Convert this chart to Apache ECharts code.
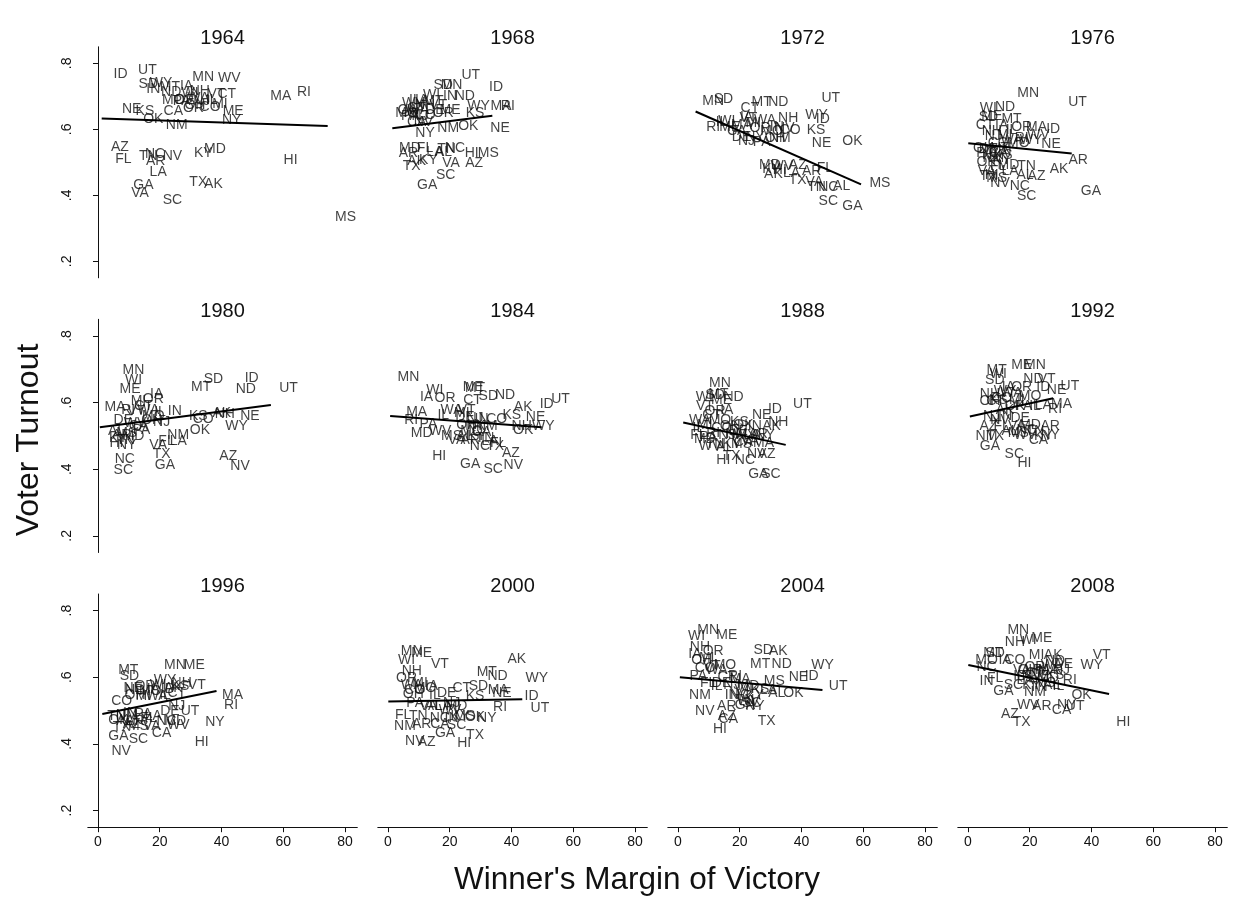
<!DOCTYPE html>
<html>
<head>
<meta charset="utf-8">
<script src="https://cdn.jsdelivr.net/npm/echarts@6/dist/echarts.min.js"></script>
<style>
  html, body { margin: 0; padding: 0; background: #fff; }
  #main { width: 1239px; height: 900px; }
</style>
</head>
<body>
<div id="main"></div>
<script>
// turnout vs. winner's margin, one panel per election year
const years = ['1964', '1968', '1972', '1976', '1980', '1984', '1988', '1992', '1996', '2000', '2004', '2008'];
const xTicks = [0, 20, 40, 60, 80];
const yTicks = [0.2, 0.4, 0.6, 0.8];

// [margin, turnout, state]
const d1964 = [[7.3,.768,'ID'],[16.0,.780,'UT'],[16.3,.737,'SD'],[20.4,.739,'WY'],[17.9,.721,'IN'],[23.7,.714,'ND'],[28.7,.731,'IA'],[33.0,.717,'NH'],[34.1,.757,'MN'],[42.5,.755,'WV'],[41.7,.707,'CT'],[38.4,.707,'VT'],[59.2,.699,'MA'],[66.7,.714,'RI'],[24.4,.689,'MO'],[28.2,.687,'DE'],[32.5,.694,'WA'],[36.8,.689,'IL'],[39.5,.677,'MI'],[30.9,.664,'OR'],[36.3,.667,'CO'],[43.8,.654,'ME'],[43.3,.628,'NY'],[10.9,.662,'NE'],[15.2,.654,'KS'],[17.9,.630,'OK'],[24.4,.654,'CA'],[25.5,.613,'NM'],[27.1,.684,'PA'],[33.6,.684,'NJ'],[29.8,.709,'WI'],[23.3,.729,'MT'],[31.4,.674,'OH'],[7.1,.545,'AZ'],[8.2,.509,'FL'],[16.3,.519,'TN'],[18.5,.525,'NC'],[18.7,.505,'AR'],[24.1,.519,'NV'],[19.5,.469,'LA'],[34.1,.529,'KY'],[37.9,.539,'MD'],[62.4,.507,'HI'],[32.5,.441,'TX'],[37.4,.434,'AK'],[14.7,.431,'GA'],[13.6,.408,'VA'],[24.1,.386,'SC'],[80.2,.335,'MS']];
const d1968 = [[26.8,.765,'UT'],[17.9,.734,'SD'],[20.6,.734,'MN'],[35.0,.727,'ID'],[24.9,.699,'ND'],[20.1,.699,'IN'],[14.1,.704,'WI'],[8.7,.689,'IL'],[10.9,.689,'IA'],[29.3,.671,'WY'],[36.6,.671,'MA'],[38.8,.671,'RI'],[28.2,.648,'KS'],[36.3,.605,'NE'],[26.0,.610,'OK'],[19.5,.603,'NM'],[12.0,.588,'NY'],[9.3,.623,'CA'],[20.1,.659,'ME'],[14.7,.684,'MT'],[16.3,.674,'VT'],[12.0,.674,'NH'],[9.8,.659,'WA'],[7.7,.649,'MI'],[12.0,.644,'CO'],[6.6,.659,'OH'],[7.1,.639,'PA'],[10.4,.639,'NJ'],[9.3,.664,'CT'],[15.2,.659,'DE'],[6.0,.649,'MO'],[17.9,.649,'OR'],[8.2,.679,'WV'],[11.5,.623,'NV'],[7.1,.542,'MD'],[6.6,.527,'AR'],[12.0,.542,'FL'],[21.7,.542,'NC'],[15.2,.532,'LA'],[18.0,.530,'AL'],[19.0,.539,'TN'],[27.1,.529,'HI'],[32.5,.529,'MS'],[13.1,.507,'KY'],[9.3,.502,'AK'],[7.7,.487,'TX'],[20.4,.497,'VA'],[27.9,.497,'AZ'],[18.7,.462,'SC'],[12.7,.431,'GA']];
const d1972 = [[11.4,.684,'MN'],[14.7,.691,'SD'],[27.1,.681,'MT'],[32.5,.681,'ND'],[23.3,.664,'CT'],[49.5,.694,'UT'],[44.9,.643,'WY'],[46.9,.630,'ID'],[44.7,.596,'KS'],[46.5,.558,'NE'],[56.5,.563,'OK'],[11.4,.606,'RI'],[15.8,.624,'WI'],[22.2,.638,'IA'],[35.7,.633,'NH'],[36.3,.598,'CO'],[22.2,.563,'NJ'],[27.1,.560,'PA'],[31.4,.573,'OH'],[19.0,.593,'CA'],[14.1,.623,'IL'],[16.8,.608,'ME'],[20.6,.613,'MA'],[24.4,.618,'MI'],[22.8,.633,'VT'],[28.2,.628,'WA'],[26.6,.603,'OR'],[30.3,.593,'MO'],[24.9,.576,'NY'],[20.6,.576,'DE'],[32.0,.608,'IN'],[33.0,.573,'NM'],[34.6,.603,'NV'],[29.8,.492,'MD'],[30.9,.465,'AK'],[33.6,.487,'WV'],[38.8,.492,'AZ'],[43.3,.472,'AR'],[47.6,.482,'FL'],[38.8,.446,'TX'],[44.2,.441,'VA'],[44.9,.424,'TN'],[48.7,.426,'NC'],[53.0,.429,'AL'],[65.4,.438,'MS'],[48.7,.381,'SC'],[56.5,.368,'GA'],[36.8,.467,'LA'],[30.3,.479,'KY'],[33.0,.477,'HI']];
const d1976 = [[19.5,.711,'MN'],[35.5,.681,'UT'],[6.6,.664,'WI'],[12.0,.667,'ND'],[6.6,.636,'SD'],[14.1,.630,'MT'],[22.2,.608,'MA'],[27.6,.600,'ID'],[26.9,.556,'NE'],[35.7,.507,'AR'],[29.5,.479,'AK'],[22.2,.459,'AZ'],[18.5,.462,'AL'],[19.0,.487,'TN'],[10.4,.436,'NV'],[16.8,.428,'NC'],[19.0,.396,'SC'],[39.8,.413,'GA'],[5.5,.613,'CT'],[7.7,.640,'ME'],[10.9,.613,'IA'],[17.4,.606,'OR'],[22.8,.583,'WV'],[14.1,.598,'IL'],[11.9,.583,'MI'],[8.2,.578,'NJ'],[7.7,.593,'NH'],[9.8,.557,'CO'],[5.0,.543,'OH'],[6.6,.541,'DE'],[14.1,.568,'WA'],[16.3,.558,'MO'],[10.4,.543,'VT'],[5.5,.528,'PA'],[7.7,.523,'NY'],[9.8,.528,'CA'],[11.9,.538,'IN'],[8.2,.512,'NM'],[11.4,.522,'KS'],[10.9,.507,'KY'],[6.0,.499,'OK'],[13.1,.492,'MD'],[17.4,.573,'RI'],[9.8,.487,'FL'],[6.0,.472,'VA'],[20.4,.568,'WY'],[7.7,.462,'HI'],[6.6,.457,'TX'],[13.6,.472,'LA'],[9.3,.451,'MS']];
const d1980 = [[11.5,.696,'MN'],[11.5,.668,'WI'],[10.4,.640,'ME'],[37.4,.670,'SD'],[49.8,.672,'ID'],[33.4,.646,'MT'],[47.9,.640,'ND'],[61.7,.642,'UT'],[19.0,.626,'IA'],[17.9,.610,'OR'],[5.5,.586,'MA'],[13.1,.603,'MI'],[24.9,.573,'IN'],[32.5,.558,'KS'],[34.1,.550,'CO'],[40.1,.568,'AK'],[41.1,.566,'NH'],[49.2,.560,'NE'],[44.9,.528,'WY'],[33.0,.516,'OK'],[26.0,.503,'NM'],[26.0,.483,'LA'],[22.2,.483,'FL'],[19.5,.473,'VA'],[20.6,.445,'TX'],[21.7,.413,'GA'],[42.2,.440,'AZ'],[46.0,.410,'NV'],[8.7,.430,'NC'],[8.2,.398,'SC'],[9.3,.473,'NY'],[8.2,.548,'DE'],[20.6,.540,'NJ'],[14.1,.518,'PA'],[12.4,.573,'VT'],[16.3,.578,'WA'],[14.7,.588,'CT'],[20.1,.570,'IL'],[17.9,.558,'MO'],[17.4,.548,'OH'],[9.8,.578,'RI'],[13.1,.528,'CA'],[12.0,.538,'WV'],[6.0,.513,'AL'],[7.7,.503,'AR'],[11.5,.498,'MD'],[6.0,.478,'HI'],[6.6,.493,'KY'],[8.9,.488,'TN'],[9.3,.508,'MS']];
const d1984 = [[6.6,.676,'MN'],[15.2,.636,'WI'],[12.5,.616,'IA'],[18.5,.613,'OR'],[28.2,.643,'MT'],[27.6,.646,'ME'],[32.5,.620,'SD'],[37.9,.623,'ND'],[55.9,.611,'UT'],[51.4,.596,'ID'],[43.8,.586,'AK'],[40.1,.563,'KS'],[47.8,.556,'NE'],[50.3,.530,'WY'],[43.8,.518,'OK'],[43.3,.530,'NH'],[27.4,.606,'CT'],[9.3,.570,'MA'],[17.9,.563,'IL'],[20.6,.578,'WA'],[10.9,.508,'MD'],[16.9,.513,'WV'],[13.1,.536,'PA'],[7.5,.548,'RI'],[35.2,.550,'CO'],[16.6,.438,'HI'],[26.6,.416,'GA'],[34.1,.400,'SC'],[40.6,.413,'NV'],[39.8,.448,'AZ'],[34.7,.468,'TX'],[29.8,.468,'NC'],[35.7,.478,'FL'],[22.2,.488,'VA'],[23.9,.568,'MI'],[25.5,.578,'VT'],[28.2,.553,'NJ'],[24.9,.556,'DE'],[30.3,.550,'IN'],[28.2,.528,'NY'],[25.5,.533,'OH'],[27.1,.513,'MO'],[30.3,.510,'CA'],[32.0,.528,'NM'],[24.9,.498,'AL'],[26.6,.488,'AR'],[28.7,.498,'KY'],[31.4,.493,'TN'],[33.0,.483,'LA'],[20.6,.498,'MS']];
const d1988 = [[13.6,.658,'MN'],[8.5,.616,'WI'],[12.0,.621,'SD'],[13.1,.625,'MT'],[18.0,.615,'ND'],[31.4,.580,'ID'],[40.3,.596,'UT'],[27.1,.563,'NE'],[32.5,.540,'NH'],[24.9,.528,'IN'],[30.3,.528,'AK'],[8.7,.590,'VT'],[12.0,.573,'OR'],[15.8,.578,'IA'],[19.9,.540,'KS'],[26.0,.385,'GA'],[30.1,.385,'SC'],[14.7,.428,'HI'],[17.4,.440,'TX'],[21.7,.426,'NC'],[25.5,.446,'NV'],[28.7,.446,'AZ'],[10.4,.468,'WV'],[17.4,.476,'KY'],[21.2,.480,'CA'],[27.7,.478,'MA'],[6.6,.503,'FL'],[6.6,.523,'IL'],[14.1,.608,'ME'],[10.9,.563,'CT'],[7.1,.546,'WA'],[21.7,.503,'WY'],[8.7,.533,'MI'],[13.6,.548,'MO'],[16.9,.530,'OH'],[14.2,.523,'CO'],[19.5,.513,'DE'],[11.4,.508,'RI'],[15.8,.503,'NJ'],[9.8,.496,'PA'],[8.7,.491,'MD'],[28.2,.503,'NY'],[21.2,.531,'OK'],[26.0,.504,'AR'],[23.3,.484,'VA'],[23.9,.501,'LA'],[19.0,.506,'NM'],[20.6,.476,'MS'],[12.0,.476,'TN'],[15.2,.466,'AL']];
const d1992 = [[17.4,.713,'ME'],[21.7,.711,'MN'],[9.3,.698,'MT'],[9.8,.686,'WI'],[8.7,.666,'SD'],[21.2,.670,'ND'],[25.5,.670,'VT'],[33.0,.648,'UT'],[28.7,.636,'NE'],[7.1,.626,'NH'],[30.3,.596,'MA'],[28.2,.580,'RI'],[7.1,.603,'OH'],[7.6,.558,'NJ'],[16.9,.553,'DE'],[26.6,.530,'AR'],[22.8,.488,'CA'],[6.0,.498,'NM'],[8.8,.498,'TX'],[7.1,.468,'GA'],[15.0,.446,'SC'],[18.3,.418,'HI'],[13.1,.646,'IA'],[17.4,.646,'OR'],[24.4,.646,'ID'],[12.0,.633,'WY'],[14.1,.628,'WA'],[10.9,.613,'CO'],[20.1,.618,'MO'],[9.8,.606,'KS'],[15.8,.608,'MI'],[8.9,.603,'CT'],[21.7,.590,'IL'],[15.2,.590,'OK'],[24.4,.593,'LA'],[18.0,.588,'PA'],[12.0,.558,'IN'],[10.4,.548,'NV'],[6.6,.530,'AZ'],[10.9,.530,'FL'],[15.8,.528,'VA'],[20.1,.533,'MD'],[19.0,.518,'NC'],[13.6,.513,'AL'],[12.0,.578,'AK'],[16.3,.508,'MS'],[21.7,.513,'TN'],[18.5,.503,'WV'],[24.4,.500,'KY'],[26.6,.503,'NY']];
const d1996 = [[24.9,.637,'MN'],[31.2,.635,'ME'],[9.8,.622,'MT'],[10.2,.602,'SD'],[21.7,.592,'WY'],[32.0,.577,'VT'],[43.6,.547,'MA'],[43.1,.517,'RI'],[37.9,.464,'NY'],[33.6,.404,'HI'],[7.7,.527,'CO'],[25.5,.512,'NJ'],[23.3,.497,'DE'],[29.8,.497,'UT'],[25.0,.467,'MD'],[20.6,.432,'CA'],[6.6,.422,'GA'],[13.1,.414,'SC'],[7.5,.377,'NV'],[12.0,.562,'ND'],[11.4,.567,'NE'],[15.2,.572,'OR'],[17.9,.564,'IA'],[19.5,.577,'WI'],[24.4,.567,'AK'],[26.6,.572,'KS'],[27.1,.582,'NH'],[22.6,.564,'ID'],[12.0,.547,'OH'],[14.7,.544,'MI'],[19.0,.542,'WA'],[21.7,.547,'IL'],[16.9,.557,'MO'],[25.5,.552,'CT'],[6.0,.482,'TN'],[8.7,.467,'AL'],[12.0,.467,'AR'],[14.1,.472,'KY'],[16.3,.477,'FL'],[17.9,.484,'LA'],[6.6,.472,'OK'],[7.7,.450,'TX'],[10.9,.460,'AZ'],[13.1,.452,'MS'],[17.4,.452,'VA'],[9.3,.487,'NM'],[22.2,.467,'NC'],[26.0,.457,'WV'],[10.4,.492,'IN'],[14.7,.490,'PA']];
const d2000 = [[7.7,.677,'MN'],[10.9,.672,'ME'],[6.0,.652,'WI'],[16.8,.639,'VT'],[7.7,.617,'NH'],[6.0,.597,'OR'],[41.7,.654,'AK'],[32.0,.614,'MT'],[35.5,.602,'ND'],[48.2,.597,'WY'],[29.3,.572,'SD'],[23.9,.567,'CT'],[19.0,.552,'DE'],[28.2,.544,'KS'],[35.7,.560,'MA'],[36.9,.552,'NE'],[46.5,.542,'ID'],[49.2,.507,'UT'],[36.3,.510,'RI'],[32.0,.477,'NY'],[28.2,.480,'OK'],[28.2,.427,'TX'],[24.7,.402,'HI'],[8.7,.407,'NV'],[12.5,.404,'AZ'],[18.5,.432,'GA'],[22.2,.457,'SC'],[5.5,.454,'NM'],[10.9,.460,'AR'],[4.9,.487,'FL'],[9.8,.484,'TN'],[8.8,.522,'PA'],[14.7,.512,'AL'],[14.1,.572,'IA'],[8.7,.562,'CO'],[10.4,.582,'MI'],[12.0,.567,'MO'],[7.7,.577,'WA'],[8.2,.550,'OH'],[15.2,.545,'IL'],[13.1,.512,'VA'],[17.9,.512,'LA'],[22.2,.512,'MD'],[20.6,.522,'NJ'],[16.8,.477,'NC'],[20.6,.477,'IN'],[23.3,.482,'KY'],[20.1,.502,'WV'],[24.9,.482,'MS'],[16.8,.460,'CA']];
const d2004 = [[9.8,.742,'MN'],[6.0,.724,'WI'],[15.8,.727,'ME'],[7.1,.690,'NH'],[11.4,.677,'OR'],[5.5,.670,'IA'],[27.6,.682,'SD'],[32.5,.677,'AK'],[26.6,.640,'MT'],[33.6,.640,'ND'],[46.8,.637,'WY'],[39.0,.600,'NE'],[43.3,.602,'ID'],[51.9,.574,'UT'],[31.2,.587,'MS'],[32.0,.552,'AL'],[37.4,.552,'OK'],[6.6,.602,'PA'],[9.8,.582,'FL'],[7.1,.547,'NM'],[8.7,.497,'NV'],[15.8,.482,'AZ'],[16.3,.474,'CA'],[13.6,.444,'HI'],[15.8,.514,'AR'],[28.7,.467,'TX'],[15.2,.637,'MO'],[7.7,.652,'OH'],[12.5,.622,'WA'],[15.8,.600,'CT'],[17.4,.577,'NJ'],[26.6,.564,'KS'],[12.5,.572,'IL'],[20.1,.547,'NC'],[21.7,.517,'GA'],[9.3,.657,'MI'],[8.8,.627,'CO'],[10.9,.632,'VT'],[14.1,.582,'DE'],[20.1,.594,'MA'],[18.5,.604,'RI'],[22.8,.572,'MD'],[21.2,.562,'VA'],[29.3,.562,'LA'],[24.9,.547,'KY'],[17.4,.547,'IN'],[21.7,.532,'TN'],[23.9,.522,'SC'],[24.9,.512,'NY'],[22.8,.527,'WV']];
const d2008 = [[16.3,.742,'MN'],[19.5,.712,'WI'],[23.9,.717,'ME'],[15.2,.704,'NH'],[22.2,.667,'MI'],[27.6,.667,'AK'],[43.3,.667,'VT'],[8.2,.672,'MT'],[6.0,.652,'MO'],[40.1,.637,'WY'],[6.0,.630,'NC'],[6.0,.587,'IN'],[8.8,.597,'FL'],[11.5,.557,'GA'],[14.7,.577,'SC'],[21.7,.554,'NM'],[36.8,.547,'OK'],[29.3,.574,'IL'],[33.0,.592,'RI'],[19.5,.517,'WV'],[23.9,.514,'AR'],[34.7,.512,'UT'],[30.3,.502,'CA'],[13.6,.490,'AZ'],[17.4,.464,'TX'],[50.3,.464,'HI'],[12.0,.652,'IA'],[15.2,.650,'CO'],[21.7,.630,'OR'],[30.9,.640,'DE'],[27.1,.637,'WA'],[28.2,.647,'ND'],[26.0,.622,'MA'],[30.3,.622,'NJ'],[23.9,.622,'PA'],[17.4,.622,'VA'],[21.7,.612,'CT'],[19.5,.622,'OH'],[23.3,.604,'NE'],[28.2,.607,'KS'],[20.6,.602,'NV'],[26.0,.597,'MD'],[32.0,.517,'NY'],[16.9,.604,'ID'],[20.6,.577,'KY'],[22.8,.570,'TN'],[18.5,.592,'LA'],[25.0,.582,'MS'],[27.1,.577,'AL'],[8.8,.672,'SD']];

const panels = [d1964, d1968, d1972, d1976, d1980, d1984, d1988, d1992, d1996, d2000, d2004, d2008];

// fitted line endpoints [x0, y0, x1, y1]
const fits = [
  [1.2, .633, 74.4, .610],
  [1.4, .603, 33.8, .641],
  [5.7, .654, 59.3, .433],
  [0.1, .558, 33.6, .527],
  [0.6, .526, 56.0, .593],
  [0.7, .560, 49.8, .526],
  [1.7, .540, 34.9, .473],
  [0.6, .558, 27.6, .613],
  [1.4, .490, 38.4, .559],
  [0.1, .527, 43.5, .534],
  [0.6, .600, 46.8, .562],
  [0.1, .637, 45.7, .550]
];

const FONT = 'Liberation Sans, Arial, sans-serif';
const colLeft = [87.8, 377.8, 667.8, 957.8];
const panelW = 269.5;
const rowTop = [46.8, 319.3, 594];
const rowH = [231, 233.2, 233.2];

const chart = echarts.init(document.getElementById('main'), null, { renderer: 'canvas' });

const grid = [], xAxis = [], yAxis = [], series = [], graphic = [];
panels.forEach((d, i) => {
  const r = Math.floor(i / 4), c = i % 4;
  grid.push({ left: colLeft[c], top: rowTop[r], width: panelW, height: rowH[r] });
  const bottomRow = r === 2;
  xAxis.push({
    gridIndex: i, type: 'value', min: -3.3, max: 84,
    show: bottomRow,
    axisLine: { show: true, lineStyle: { color: '#111', width: 1 } },
    axisTick: { show: true, length: 5, customValues: xTicks, lineStyle: { color: '#111' } },
    axisLabel: { customValues: xTicks, color: '#111', fontSize: 14, fontFamily: FONT, margin: 8 },
    splitLine: { show: false }
  });
  yAxis.push({
    gridIndex: i, type: 'value', min: 0.15, max: 0.85,
    show: c === 0,
    axisLine: { show: true, lineStyle: { color: '#111', width: 1 } },
    axisTick: { show: true, length: 5, customValues: yTicks, lineStyle: { color: '#111' } },
    axisLabel: {
      customValues: yTicks, rotate: 90, color: '#111', fontSize: 14, fontFamily: FONT, margin: 14,
      formatter: v => String(Math.round(v * 10) / 10).replace(/^0/, '')
    },
    splitLine: { show: false }
  });
  series.push({
    type: 'scatter', xAxisIndex: i, yAxisIndex: i, symbolSize: 1,
    itemStyle: { color: 'rgba(0,0,0,0)' },
    label: { show: true, position: 'inside', formatter: '{b}', color: '#111', fontSize: 14, fontFamily: FONT },
    data: d.map(p => ({ name: p[2], value: [p[0], p[1]] })),
    silent: true, z: 2
  });
  const f = fits[i];
  series.push({
    type: 'line', xAxisIndex: i, yAxisIndex: i, symbol: 'none',
    lineStyle: { color: '#000', width: 2 },
    data: [[f[0], f[1]], [f[2], f[3]]],
    silent: true, z: 3
  });
  graphic.push({
    type: 'text', x: colLeft[c] + panelW / 2, y: rowTop[r] - 8,
    style: { text: years[i], font: '20px ' + FONT, fill: '#111', textAlign: 'center', textVerticalAlign: 'middle' }
  });
});

graphic.push({
  type: 'text', x: 29, y: 440, rotation: Math.PI / 2,
  style: { text: 'Voter Turnout', font: '32px ' + FONT, fill: '#111', textAlign: 'center', textVerticalAlign: 'middle' }
});
graphic.push({
  type: 'text', x: 637, y: 880,
  style: { text: "Winner's Margin of Victory", font: '31.5px ' + FONT, fill: '#111', textAlign: 'center', textVerticalAlign: 'middle' }
});

chart.setOption({
  animation: false,
  backgroundColor: '#fff',
  grid: grid,
  xAxis: xAxis,
  yAxis: yAxis,
  series: series,
  graphic: graphic
});
</script>
</body>
</html>
